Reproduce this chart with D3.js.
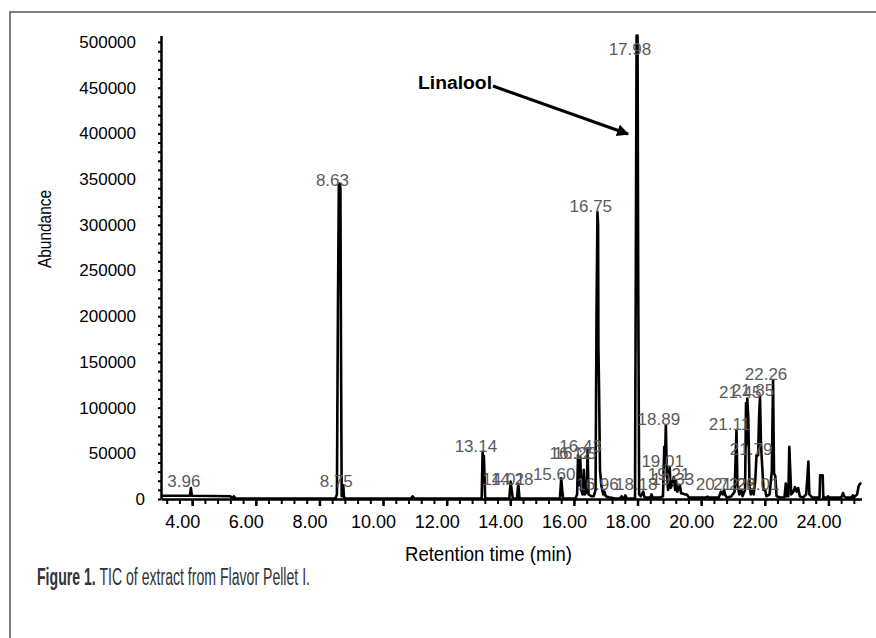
<!DOCTYPE html>
<html>
<head>
<meta charset="utf-8">
<script src="https://cdn.jsdelivr.net/npm/d3@7/dist/d3.min.js"></script>
<style>
  body { margin:0; background:#fff; }
  svg { display:block; }
</style>
</head>
<body>
<div id="chart"></div>
<script>
// chromatogram trace (retention time in min, abundance)
var traceTime = [
  3.02, 3.90, 3.93, 3.96, 3.99, 5.20, 5.25, 5.31, 5.36, 8.50,
  8.55, 8.58, 8.61, 8.64, 8.66, 8.68, 8.70, 8.73, 8.75, 8.77, 8.80,
  10.88, 10.93, 10.98, 13.10, 13.13, 13.15, 13.17, 13.21,
  13.97, 14.01, 14.05, 14.08, 14.21, 14.25, 14.29,
  15.56, 15.60, 15.63, 15.66,
  16.05, 16.10, 16.13, 16.16, 16.20, 16.23, 16.27, 16.31, 16.34, 16.40, 16.43, 16.46,
  16.55, 16.62, 16.68, 16.71, 16.74, 16.76, 16.77, 16.79, 16.82, 16.86, 16.92, 16.96, 17.00, 17.10, 17.30,
  17.45, 17.50, 17.55, 17.58, 17.62, 17.66, 17.92, 17.95, 17.97, 18.00, 18.02, 18.05,
  18.10, 18.18, 18.22, 18.30, 18.41, 18.44, 18.48, 18.70, 18.80, 18.84, 18.86, 18.89, 18.92, 18.96,
  19.01, 19.04, 19.08, 19.14, 19.18, 19.21, 19.25, 19.30, 19.33, 19.37, 19.42, 19.48, 19.55, 19.62,
  20.15, 20.20, 20.25, 20.55, 20.62, 20.68, 20.72, 20.76, 20.82, 20.95, 21.05, 21.11, 21.14, 21.20, 21.26, 21.30,
  21.38, 21.41, 21.43, 21.45, 21.48, 21.52, 21.56, 21.60, 21.65, 21.70, 21.74, 21.79, 21.82, 21.85, 21.88, 21.92, 21.96,
  22.01, 22.05, 22.15, 22.22, 22.26, 22.29, 22.33, 22.37, 22.50,
  22.62, 22.66, 22.69, 22.74, 22.77, 22.80, 22.83, 22.90, 22.95, 23.00, 23.05, 23.10, 23.20,
  23.30, 23.34, 23.37, 23.40, 23.50, 23.72, 23.74, 23.82, 23.84, 23.96, 23.99, 24.02,
  24.40, 24.46, 24.50, 24.55, 24.72, 24.77, 24.80, 24.90, 24.95, 25.00, 25.04
];
var traceAbund = [
  3500, 3500, 3500, 12000, 3500, 3000, 500, 3000, 500, 500,
  5000, 200000, 343000, 345000, 340000, 150000, 3000, 3000, 15000, 3000, 500,
  500, 3000, 500, 500, 51700, 20000, 47000, 500,
  500, 19000, 8000, 500, 500, 16500, 500,
  500, 22600, 10000, 500,
  500, 5000, 48000, 15000, 46000, 10000, 5000, 32000, 5000, 8000, 53600, 5000,
  3000, 3000, 10000, 200000, 314000, 300000, 166000, 120000, 32000, 15000, 5000, 8000, 3000, 2000, 500,
  500, 3000, 500, 500, 4000, 500, 500, 300000, 507000, 507000, 250000, 5000,
  3000, 8000, 2000, 1500, 1500, 5000, 1500, 1500, 3000, 57000, 40000, 81000, 30000, 10000,
  35000, 12000, 15000, 24000, 10000, 20000, 8000, 12000, 15000, 6000, 6000, 5000, 5000, 1500,
  1500, 2500, 1500, 1500, 8000, 5000, 10000, 4000, 1500, 3000, 8000, 75500, 15000, 5000, 10000, 3000,
  10000, 105000, 60000, 110000, 90000, 15000, 5000, 10000, 5000, 20000, 48000, 48000, 90000, 112000, 60000, 35000, 10000,
  10000, 3000, 5000, 30000, 130000, 28000, 25000, 3000, 1500,
  2000, 17000, 3000, 3000, 57000, 32000, 5000, 8000, 13000, 8000, 12000, 3000, 1500,
  5000, 24000, 41000, 5000, 1500, 1500, 26000, 26000, 1500, 1500, 3000, 1500,
  1500, 6500, 3000, 1500, 1500, 4000, 1500, 5000, 14000, 17000, 17000
];

// peak labels: text and abundance where the label sits
var peakLabels = ["3.96", "8.63", "8.75", "13.14", "14.01", "14.28", "15.60", "16.12", "16.25", "16.43",
  "16.75", "16.96", "17.98", "18.18", "18.89", "19.01", "19.21", "19.33", "20.72", "21.26", "22.01",
  "21.11", "21.45", "21.85", "21.79", "22.26"];
var peakLabelAbund = [13000, 342000, 13000, 51400, 15300, 15300, 20800, 43800, 43800, 51700,
  314000, 9800, 485700, 9800, 81000, 35300, 20800, 15300, 9800, 9800, 9800,
  75500, 110500, 112700, 48000, 130000];

var xMajorTicks = [4, 6, 8, 10, 12, 14, 16, 18, 20, 22, 24];
var xMinorTicks = d3.range(3.2, 25.0, 0.4);
var yMajorTicks = d3.range(0, 500001, 50000);
var yMinorTicks = d3.range(0, 500001, 10000);

var W = 876, H = 638;
var svg = d3.select("#chart").append("svg")
  .attr("width", W)
  .attr("height", H);

// figure frame
svg.append("rect")
  .attr("x", 10).attr("y", 12)
  .attr("width", 900).attr("height", 700)
  .attr("fill", "none")
  .attr("stroke", "#555")
  .attr("stroke-width", 1.5);

var x = d3.scaleLinear().domain([3.02, 25.04]).range([161, 861.5]);
var y = d3.scaleLinear().domain([0, 507000]).range([499, 35.6]);

// y axis
var yMinor = svg.append("g")
  .attr("transform", "translate(161,0)")
  .call(d3.axisLeft(y).tickValues(yMinorTicks).tickSize(3).tickSizeOuter(0).tickFormat(""));
yMinor.select(".domain").attr("stroke-width", 2.5);
yMinor.selectAll(".tick line").attr("stroke-width", 2);

var yAxis = svg.append("g")
  .attr("transform", "translate(161,0)")
  .call(d3.axisLeft(y).tickValues(yMajorTicks).tickSize(3).tickSizeOuter(0)
    .tickPadding(22).tickFormat(d3.format("d")));
yAxis.select(".domain").remove();
yAxis.selectAll("text")
  .attr("font-family", "'Liberation Sans', Arial, sans-serif")
  .attr("font-size", 17)
  .attr("fill", "#000")
  .attr("dx", function(d) { return d === 0 ? 9 : 0; });

// x axis
var xMinor = svg.append("g")
  .attr("transform", "translate(0,499)")
  .call(d3.axisBottom(x).tickValues(xMinorTicks).tickSize(5).tickSizeOuter(0).tickFormat(""));
xMinor.select(".domain").attr("stroke-width", 2.5);
xMinor.selectAll(".tick line").attr("stroke-width", 2);

var xAxis = svg.append("g")
  .attr("transform", "translate(0,499)")
  .call(d3.axisBottom(x).tickValues(xMajorTicks).tickSize(7).tickSizeOuter(0)
    .tickPadding(9).tickFormat(d3.format(".2f")));
xAxis.select(".domain").remove();
xAxis.selectAll(".tick line").attr("stroke-width", 2.5);
xAxis.selectAll("text")
  .attr("font-family", "'Liberation Sans', Arial, sans-serif")
  .attr("font-size", 18)
  .attr("fill", "#000")
  .attr("dx", -10);

// trace
var line = d3.line()
  .x(function(d, i) { return x(traceTime[i]); })
  .y(function(d, i) { return y(traceAbund[i]); });

svg.append("path")
  .datum(traceTime)
  .attr("d", line)
  .attr("fill", "none")
  .attr("stroke", "#000")
  .attr("stroke-width", 2.6)
  .attr("stroke-linejoin", "round");

// peak labels
svg.append("g").selectAll("text")
  .data(peakLabels)
  .enter().append("text")
  .attr("x", function(d) { return x(+d) - 7; })
  .attr("y", function(d, i) { return y(peakLabelAbund[i]); })
  .attr("text-anchor", "middle")
  .attr("font-family", "'Liberation Sans', Arial, sans-serif")
  .attr("font-size", 17)
  .attr("fill", "#5a5a5a")
  .text(function(d) { return d; });

// Linalool annotation
svg.append("defs").append("marker")
  .attr("id", "arrow")
  .attr("viewBox", "0 0 10 10")
  .attr("refX", 9).attr("refY", 5)
  .attr("markerWidth", 4.5).attr("markerHeight", 4)
  .attr("orient", "auto")
  .append("path")
  .attr("d", "M0,0L10,5L0,10z")
  .attr("fill", "#000");

svg.append("line")
  .attr("x1", 493).attr("y1", 86)
  .attr("x2", 628).attr("y2", 134)
  .attr("stroke", "#000")
  .attr("stroke-width", 3)
  .attr("marker-end", "url(#arrow)");

svg.append("text")
  .attr("x", 418).attr("y", 89)
  .attr("font-family", "'Liberation Sans', Arial, sans-serif")
  .attr("font-weight", "bold")
  .attr("font-size", 18)
  .attr("textLength", 74)
  .attr("lengthAdjust", "spacingAndGlyphs")
  .text("Linalool");

// axis titles
svg.append("text")
  .attr("transform", "translate(51,229) rotate(-90)")
  .attr("text-anchor", "middle")
  .attr("font-family", "'Liberation Sans Narrow', 'Liberation Sans', sans-serif")
  .attr("font-size", 19)
  .attr("textLength", 78)
  .attr("lengthAdjust", "spacingAndGlyphs")
  .text("Abundance");

svg.append("text")
  .attr("x", 488.5).attr("y", 561)
  .attr("text-anchor", "middle")
  .attr("font-family", "'Liberation Sans Narrow', 'Liberation Sans', sans-serif")
  .attr("font-size", 21)
  .attr("textLength", 167)
  .attr("lengthAdjust", "spacingAndGlyphs")
  .text("Retention time (min)");

// caption
var cap = svg.append("text")
  .attr("x", 37).attr("y", 585)
  .attr("font-family", "'Liberation Sans Narrow', 'Liberation Sans', sans-serif")
  .attr("font-size", 23)
  .attr("fill", "#333")
  .attr("textLength", 273)
  .attr("lengthAdjust", "spacingAndGlyphs");
cap.append("tspan").attr("font-weight", "bold").text("Figure 1.");
cap.append("tspan").text(" TIC of extract from Flavor Pellet I.");
</script>
</body>
</html>
